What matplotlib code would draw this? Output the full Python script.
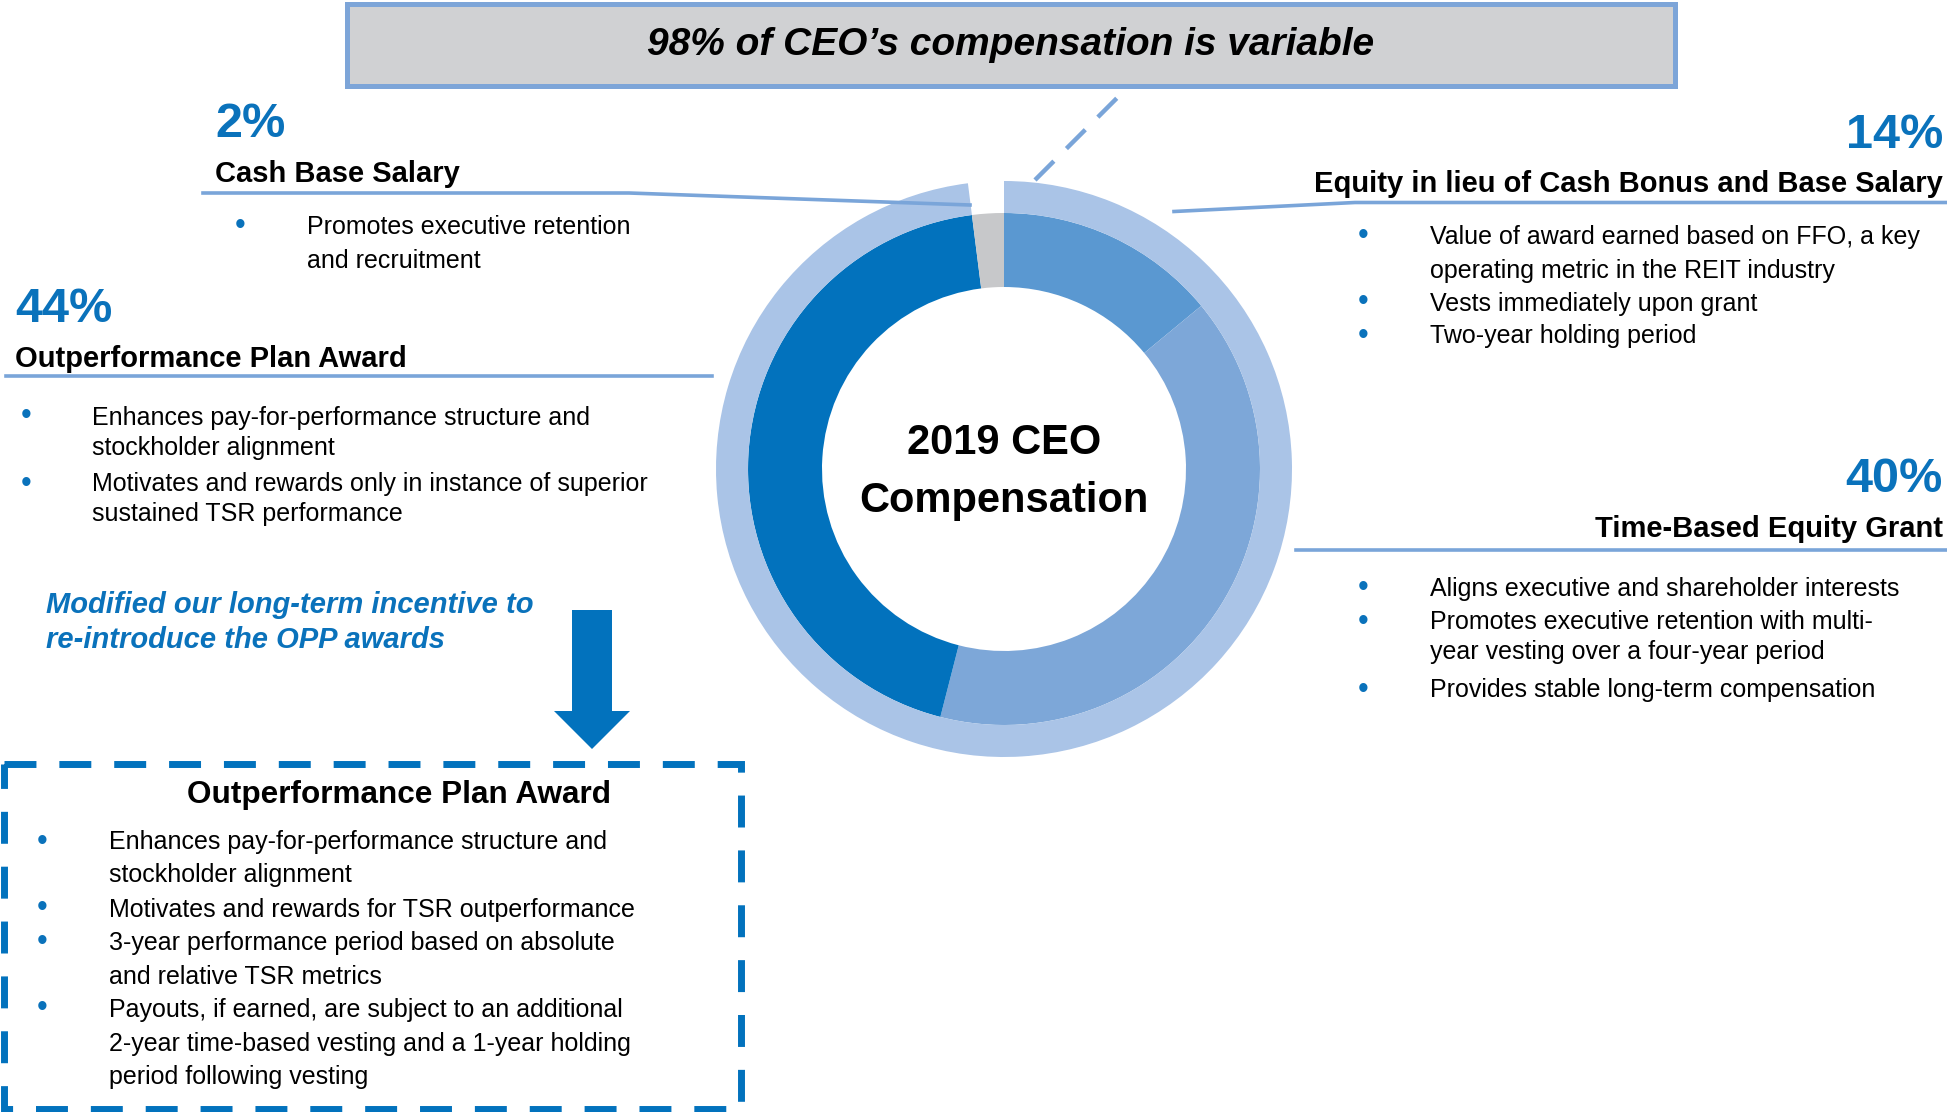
import matplotlib
matplotlib.use('Agg')
import matplotlib.pyplot as plt
from matplotlib.patches import Rectangle, FancyArrow

plt.rcParams['font.family'] = ['Liberation Sans', 'DejaVu Sans']

# ---------------- data ----------------
segments = ["Equity in lieu of Cash Bonus and Base Salary",
            "Time-Based Equity Grant",
            "Outperformance Plan Award",
            "Cash Base Salary"]
shares = [14, 40, 44, 2]
ring_groups = ["Variable", "Fixed"]
ring_shares = [98, 2]

title_text = "98% of CEO\u2019s compensation is variable"
center_lines = ["2019 CEO", "Compensation"]

cash_bullets = ["Promotes executive retention", "and recruitment"]
opp_bullets = ["Enhances pay-for-performance structure and", "stockholder alignment",
               "Motivates and rewards only in instance of superior", "sustained TSR performance"]
equity_bullets = ["Value of award earned based on FFO, a key", "operating metric in the REIT industry",
                  "Vests immediately upon grant", "Two-year holding period"]
time_bullets = ["Aligns executive and shareholder interests",
                "Promotes executive retention with multi-", "year vesting over a four-year period",
                "Provides stable long-term compensation"]
note_lines = ["Modified our long-term incentive to", "re-introduce the OPP awards"]
box_title = "Outperformance Plan Award"
box_bullets = ["Enhances pay-for-performance structure and", "stockholder alignment",
               "Motivates and rewards for TSR outperformance",
               "3-year performance period based on absolute", "and relative TSR metrics",
               "Payouts, if earned, are subject to an additional",
               "2-year time-based vesting and a 1-year holding", "period following vesting"]

# ---------------- style ----------------
seg_colors = ['#5A98D1', '#7DA7D8', '#0272BD', '#C7C8CA']
ring_color = '#AAC4E7'
line_color = '#7AA5D9'
blue = '#0A72BB'
W, H = 1947, 1112

fig = plt.figure(figsize=(W / 100, H / 100), dpi=100)
ax = fig.add_axes([0, 0, 1, 1])

cx, cy = 1004, 469
ax.pie(shares, colors=seg_colors, center=(cx, cy), radius=256, startangle=-90,
       counterclock=True, wedgeprops=dict(width=74, linewidth=0))
ax.pie(ring_shares, colors=[ring_color, 'none'], center=(cx, cy), radius=288, startangle=-90,
       counterclock=True, wedgeprops=dict(width=32, linewidth=0))

ax.set_xlim(0, W)
ax.set_ylim(H, 0)
ax.set_aspect('auto')
ax.axis('off')

# center text
ax.text(cx, 454, center_lines[0], ha='center', va='baseline', fontsize=30, fontweight='bold')
ax.text(cx, 512, center_lines[1], ha='center', va='baseline', fontsize=30, fontweight='bold')

# banner
ax.add_patch(Rectangle((347, 4), 1328, 82, facecolor='#D0D1D3', edgecolor='#7DA5D8', lw=3.6, zorder=3))
ax.text(1011, 55, title_text, ha='center', va='baseline', fontsize=28, fontweight='bold',
        fontstyle='italic', zorder=4)

# dashed connector to banner
ax.plot([1035, 1125], [180, 90], color=line_color, lw=3.2, ls=(0, (6, 4)), solid_capstyle='butt')

# connector lines
ax.plot([203, 629, 970], [193, 193, 205], color=line_color, lw=2.6)
ax.plot([6, 712], [376, 376], color=line_color, lw=2.6)
ax.plot([1174, 1355, 1947], [211.5, 202.5, 202.5], color=line_color, lw=2.6)
ax.plot([1296, 1947], [549.5, 549.5], color=line_color, lw=2.6)

pct = [f"{v}%" for v in shares]

def bullet(x, y):
    ax.text(x, y + 3.5, "\u2022", ha='center', va='baseline', fontsize=22, color=blue)

# --- Cash base salary (left top)
ax.text(215, 137, pct[3], fontsize=35, fontweight='bold', color=blue, va='baseline')
ax.text(215, 182, segments[3], fontsize=21, fontweight='bold', va='baseline')
bullet(240, 230)
for txt, yb in zip(cash_bullets, [234, 268]):
    ax.text(307, yb, txt, fontsize=18, va='baseline')

# --- OPP (left)
ax.text(15, 322, pct[2], fontsize=35, fontweight='bold', color=blue, va='baseline')
ax.text(15, 367, segments[2], fontsize=21, fontweight='bold', va='baseline')
for yb in [421, 489]:
    bullet(26, yb)
for txt, yb in zip(opp_bullets, [425, 455, 491, 521]):
    ax.text(92, yb, txt, fontsize=18, va='baseline')

# --- Equity (right top)
ax.text(1943, 148, pct[0], fontsize=35, fontweight='bold', color=blue, va='baseline', ha='right')
ax.text(1943, 192, segments[0], fontsize=21, fontweight='bold', va='baseline', ha='right')
for yb in [240.5, 307, 341]:
    bullet(1363, yb)
for txt, yb in zip(equity_bullets, [244, 278, 311, 343]):
    ax.text(1430, yb, txt, fontsize=18, va='baseline')

# --- Time-based (right)
ax.text(1943, 492, pct[1], fontsize=35, fontweight='bold', color=blue, va='baseline', ha='right')
ax.text(1943, 537, segments[1], fontsize=21, fontweight='bold', va='baseline', ha='right')
for yb in [593, 627, 694]:
    bullet(1363, yb)
for txt, yb in zip(time_bullets, [596, 629, 659, 697]):
    ax.text(1430, yb, txt, fontsize=18, va='baseline')

# --- note + arrow
for txt, yb in zip(note_lines, [613, 648]):
    ax.text(46, yb, txt, fontsize=21, fontweight='bold', fontstyle='italic', color=blue, va='baseline')
ax.add_patch(FancyArrow(592, 610, 0, 139, width=40, head_width=76, head_length=38,
                        length_includes_head=True, color='#0272BD', lw=0))

# --- dashed box
ax.add_patch(Rectangle((4, 763.5), 736.5, 345, facecolor='none', edgecolor='#0272BD', lw=5,
                       ls=(0, (4.6, 3.3))))
ax.text(399, 803, box_title, ha='center', va='baseline', fontsize=22.7, fontweight='bold')
for yb in [846, 913, 947, 1013]:
    bullet(42, yb)
for txt, yb in zip(box_bullets, [849, 882, 917, 950, 984, 1017, 1051, 1084]):
    ax.text(109, yb, txt, fontsize=18, va='baseline')

fig.savefig('out.png', dpi=100)
